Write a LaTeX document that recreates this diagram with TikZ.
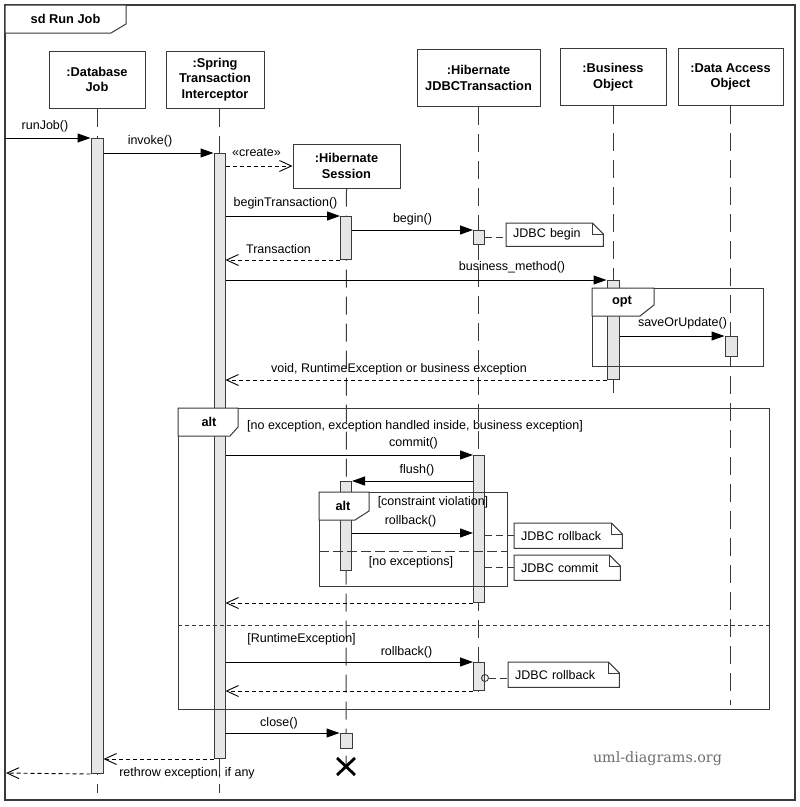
\documentclass[tikz,border=0pt]{standalone}
\usepackage{fontspec}
\setmainfont{Liberation Sans}
\newfontfamily\wmfont{DejaVu Serif}
\usetikzlibrary{arrows.meta,calc}
\definecolor{lncol}{HTML}{3A3A3A}
\definecolor{actfill}{HTML}{E6E6E6}
\definecolor{wmcol}{HTML}{6E6E6E}
\newcommand{\mynoteshape}[1]{%
  \draw[noteline] (#1.north west) -- ($(#1.north east)+(-11,0)$) -- ($(#1.north east)+(0,11)$) -- (#1.south east) -- (#1.south west) -- cycle;
  \draw[noteline] ($(#1.north east)+(-11,0)$) -- ($(#1.north east)+(-11,11)$) -- ($(#1.north east)+(0,11)$);}
\begin{document}
\begin{tikzpicture}[x=1pt,y=-1pt,
  txt/.style={font=\fontsize{12.5}{15}\selectfont, inner sep=0pt},
  head/.style={draw=lncol, line width=1pt, fill=white, align=center, font=\bfseries\fontsize{12.8}{15.5}\selectfont, inner sep=0pt},
  lifeline/.style={draw=lncol, line width=1pt, dash pattern=on 18pt off 9pt},
  act/.style={draw=lncol, fill=actfill, line width=1pt, inner sep=0pt, anchor=north},
  msg/.style={draw=black, line width=1pt, -{Triangle[length=13pt,width=9pt]}},
  ret/.style={draw=black, line width=0.9pt, dash pattern=on 4pt off 3pt, -{Straight Barb[length=12pt,width=11pt,line width=0.9pt]}},
  frm/.style={draw=lncol, line width=1pt},
  tab/.style={draw=lncol, line width=1pt, fill=white},
  tabtxt/.style={font=\bfseries\fontsize{12.8}{15}\selectfont, inner sep=0pt},
  notebox/.style={fill=white, inner xsep=7pt, inner ysep=0pt, align=left, font=\fontsize{12.5}{15}\selectfont, anchor=north west},
  noteline/.style={draw=lncol, line width=1pt},
  notelink/.style={draw=lncol, line width=1pt, dash pattern=on 7pt off 4pt},
]
\useasboundingbox (0,0) rectangle (800,807);
\fill[white] (0,0) rectangle (800,807);

% outer frame
\draw[frm, line width=1.3pt] (5,5) rectangle (795,800);
\draw[tab] (5,5) -- (126,5) -- (126,24) -- (111,33) -- (5,33) -- cycle;
\node[tabtxt] (sdlbl) at (65.5,19) {sd Run Job};

% heads
\node[head, minimum width=96pt, minimum height=57pt] (dbj) at (97,79.5) {:Database\\Job};
\node[head, minimum width=98pt, minimum height=57pt] (sti) at (215,79.5) {:Spring\\Transaction\\Interceptor};
\node[head, minimum width=123pt, minimum height=57pt] (hjt) at (478.5,78) {:Hibernate\\JDBCTransaction};
\node[head, minimum width=106pt, minimum height=57pt] (bo) at (613,77) {:Business\\Object};
\node[head, minimum width=105pt, minimum height=57pt] (dao) at (730.5,77) {:Data Access\\Object};
\node[head, minimum width=107pt, minimum height=44pt] (hs) at (346.5,166) {:Hibernate\\Session};

% lifeline coordinates
\coordinate (lend) at (0,793);
\coordinate (spTop) at (219.5,108.5);
\coordinate (xc) at (346,766.5);
\coordinate (jEnd) at (0,697);
\coordinate (bEnd) at (0,393);
\coordinate (dEnd) at (0,705);

\draw[lifeline] (dbj.south) -- (dbj.south |- lend);
\draw[lifeline] (spTop) -- (spTop |- lend);
\draw[lifeline] (hs.south) -- (xc);
\draw[lifeline] (hjt.south) -- (hjt.south |- jEnd);
\draw[lifeline] (bo.south) -- (bo.south |- bEnd);
\draw[lifeline] (dao.south) -- (dao.south |- dEnd);

% activation bars
\node[act, minimum width=12pt, minimum height=635pt] (a1) at (97,138) {};
\node[act, minimum width=11pt, minimum height=605pt] (a2) at (219.5,153) {};
\node[act, minimum width=11pt, minimum height=43pt] (s1) at (346,216) {};
\node[act, minimum width=11pt, minimum height=14pt] (t1) at (479,230) {};
\node[act, minimum width=12pt, minimum height=99pt] (b1) at (613,280) {};
\node[act, minimum width=12pt, minimum height=20pt] (d1) at (731,336) {};
\node[act, minimum width=11pt, minimum height=147pt] (t2) at (479,455) {};
\node[act, minimum width=11pt, minimum height=89pt] (s2) at (346,481) {};
\node[act, minimum width=11pt, minimum height=28pt] (t3) at (479,662) {};
\node[act, minimum width=12pt, minimum height=15pt] (s3) at (346,733) {};

% destruction
\draw[line width=2.8pt, black] ($(xc)+(-9,-8.5)$) -- ($(xc)+(9,8.5)$);
\draw[line width=2.8pt, black] ($(xc)+(9,-8.5)$) -- ($(xc)+(-9,8.5)$);

% opt frame
\draw[frm] (592,288) rectangle (763,366);
\draw[tab] (592,288) -- (654,288) -- (654,305) -- (640,316) -- (592,316) -- cycle;
\node[tabtxt] (optlbl) at (622,302) {opt};

% outer alt
\draw[frm] (178,408) rectangle (769,709);
\draw[tab] (178,408) -- (238,408) -- (238,427) -- (230,436) -- (178,436) -- cycle;
\node[tabtxt] (alt1lbl) at (209,422) {alt};
\draw[lncol, line width=1pt, dash pattern=on 4pt off 3pt] (178,625) -- (769,625);

% inner alt
\draw[frm] (319,492) rectangle (507,586);
\draw[tab] (319,492) -- (369,492) -- (369,511) -- (355,520) -- (319,520) -- cycle;
\node[tabtxt] (alt2lbl) at (343,506) {alt};
\draw[lncol, line width=1pt, dash pattern=on 10pt off 4pt] (319,551) -- (507,551);

% notes
\node[notebox, text width=83pt, minimum height=23pt] (n1) at (506,223) {JDBC begin};
\mynoteshape{n1}
\node[notebox, text width=94pt, minimum height=25pt] (n2) at (514,523) {JDBC rollback};
\mynoteshape{n2}
\node[notebox, text width=92pt, minimum height=25pt] (n3) at (514,555) {JDBC commit};
\mynoteshape{n3}
\node[notebox, text width=97pt, minimum height=25pt] (n4) at (508,662) {JDBC rollback};
\mynoteshape{n4}

\coordinate (yrb) at (0,533);
\coordinate (ycirc) at (0,678);
\coordinate (start) at (5,138);
\coordinate (endL) at (6,773);

\draw[notelink] (t1.east) -- (t1.east -| n1.west);
\draw[notelink] (t2.east |- n2.west) -- (n2.west);
\draw[notelink] (t2.east |- n3.west) -- (n3.west);
\node[circle, draw=lncol, line width=0.9pt, minimum size=7pt, inner sep=0pt] (lc) at (t3.east |- ycirc) {};
\draw[notelink] (lc.east) -- (lc.east -| n4.west);

% messages
\draw[msg] (start) -- (a1.north west);
\draw[msg] (a1.east |- a2.north west) -- (a2.north west);
\draw[ret] (a2.east |- hs.west) -- (hs.west);
\draw[msg] (a2.east |- s1.north west) -- (s1.north west);
\draw[msg] (s1.east |- t1.north west) -- (t1.north west);
\draw[ret] (s1.south west) -- (a2.east |- s1.south west);
\draw[msg] (a2.east |- b1.north west) -- (b1.north west);
\draw[msg] (b1.east |- d1.north west) -- (d1.north west);
\draw[ret] (b1.south west) -- (a2.east |- b1.south west);
\draw[msg] (a2.east |- t2.north west) -- (t2.north west);
\draw[msg] (t2.west |- s2.north east) -- (s2.north east);
\draw[msg] (s2.east |- yrb) -- (t2.west |- yrb);
\draw[ret] (t2.south west) -- (a2.east |- t2.south west);
\draw[msg] (a2.east |- t3.north west) -- (t3.north west);
\draw[ret] (t3.south west) -- (a2.east |- t3.south west);
\draw[msg] (a2.east |- s3.north west) -- (s3.north west);
\draw[ret] (a2.south west) -- (a1.east |- a2.south west);
\draw[ret] (a1.south west) -- (endL);

% labels
\node[txt] (lrun) at (45,126) {runJob()};
\node[txt] (linv) at (150,141.5) {invoke()};
\node[txt] (lcre) at (256.5,153) {«create»};
\node[txt] (lbt) at (285.5,203) {beginTransaction()};
\node[txt] (lbeg) at (412.5,219) {begin()};
\node[txt] (ltr) at (278.5,249) {Transaction};
\node[txt] (lbm) at (512,267) {business\_method()};
\node[txt] (lsou) at (682.5,323.5) {saveOrUpdate()};
\node[txt] (lvoid) at (399,369) {void, RuntimeException or business exception};
\node[txt, anchor=west] (g1) at (247,426) {[no exception, exception handled inside, business exception]};
\node[txt] (lcom) at (413.5,443) {commit()};
\node[txt] (lfl) at (417,470) {flush()};
\node[txt] (g2) at (433,502) {[constraint violation]};
\node[txt] (lrb1) at (410.5,521.5) {rollback()};
\node[txt] (g3) at (411,562) {[no exceptions]};
\node[txt] (g4) at (301.5,639) {[RuntimeException]};
\node[txt] (lrb2) at (406.5,652) {rollback()};
\node[txt] (lclo) at (279,723) {close()};
\node[txt] (lreth) at (187,773) {rethrow exception, if any};

\node[font=\wmfont\fontsize{14.3}{15}\selectfont, text=wmcol, inner sep=0pt] (wm) at (657.5,759) {uml-diagrams.org};
\end{tikzpicture}
\end{document}
